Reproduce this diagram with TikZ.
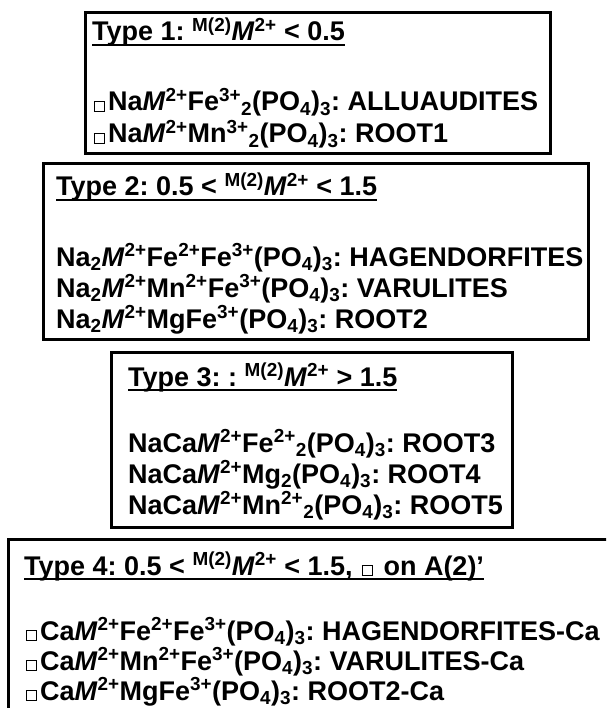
\documentclass[tikz,border=0pt]{standalone}
\usepackage{fontspec}
\setmainfont{Liberation Sans}
\frenchspacing
\newcommand\sqr{\hbox{\kern0.06em{\setlength\fboxsep{0pt}\setlength\fboxrule{0.9pt}\fbox{\rule{0.34em}{0pt}\rule{0pt}{0.34em}}}\kern0.12em}}
\newcommand\sps[1]{\textsuperscript{#1}}
\newcommand\sbs[1]{\textsubscript{#1}}
\newcommand\MM{\textit{M}\sps{2+}}
\newcommand\MMt{\sps{M(2)}\textit{M}\sps{2+}}
\newcommand\POf{(PO\sbs{4})\sbs{3}}
\newcommand\myul[1]{\setbox0\hbox{#1}\rlap{\rule[-5pt]{\wd0}{2pt}}\box0}
\tikzset{
  txt/.style={anchor=base west, inner sep=0pt, font=\fontsize{27}{31}\selectfont\bfseries\frenchspacing},
  box/.style={draw, line width=3pt}
}
\begin{document}
\begin{tikzpicture}[x=1pt,y=-1pt]
\useasboundingbox (0,0) rectangle (606,708);
\clip (0,0) rectangle (606,708);
% boxes
\draw[box] (85,13) rectangle (550,154);
\draw[box] (43,164) rectangle (588,339);
\draw[box] (111,352) rectangle (512,527);
\draw[box] (8,539) rectangle (640,740);
% box 1
\node[txt] (t1) at (92,41) {\myul{Type 1: \MMt{} < 0.5}};
\node[txt] (l11) at (92,111) {\sqr Na\MM Fe\sps{3+}\sbs{2}\POf: ALLUAUDITES};
\node[txt] (l12) at (92,143) {\sqr Na\MM Mn\sps{3+}\sbs{2}\POf: ROOT1};
% box 2
\node[txt] (t2) at (56,196) {\myul{Type 2: 0.5 < \MMt{} < 1.5}};
\node[txt] (l21) at (56,266) {Na\sbs{2}\MM Fe\sps{2+}Fe\sps{3+}\POf: HAGENDORFITES};
\node[txt] (l22) at (56,297) {Na\sbs{2}\MM Mn\sps{2+}Fe\sps{3+}\POf: VARULITES};
\node[txt] (l23) at (56,328) {Na\sbs{2}\MM MgFe\sps{3+}\POf: ROOT2};
% box 3
\node[txt] (t3) at (128,386) {\myul{Type 3: : \MMt{} > 1.5}};
\node[txt] (l31) at (128,452) {NaCa\MM Fe\sps{2+}\sbs{2}\POf: ROOT3};
\node[txt] (l32) at (128,483) {NaCa\MM Mg\sbs{2}\POf: ROOT4};
\node[txt] (l33) at (128,514) {NaCa\MM Mn\sps{2+}\sbs{2}\POf: ROOT5};
% box 4
\node[txt] (t4) at (24,575) {\myul{Type 4: 0.5 < \MMt{} < 1.5, \sqr{} on A(2)’}};
\node[txt] (l41) at (24,640) {\sqr Ca\MM Fe\sps{2+}Fe\sps{3+}\POf: HAGENDORFITES-Ca};
\node[txt] (l42) at (24,670) {\sqr Ca\MM Mn\sps{2+}Fe\sps{3+}\POf: VARULITES-Ca};
\node[txt] (l43) at (24,700) {\sqr Ca\MM MgFe\sps{3+}\POf: ROOT2-Ca};
\end{tikzpicture}
\end{document}
